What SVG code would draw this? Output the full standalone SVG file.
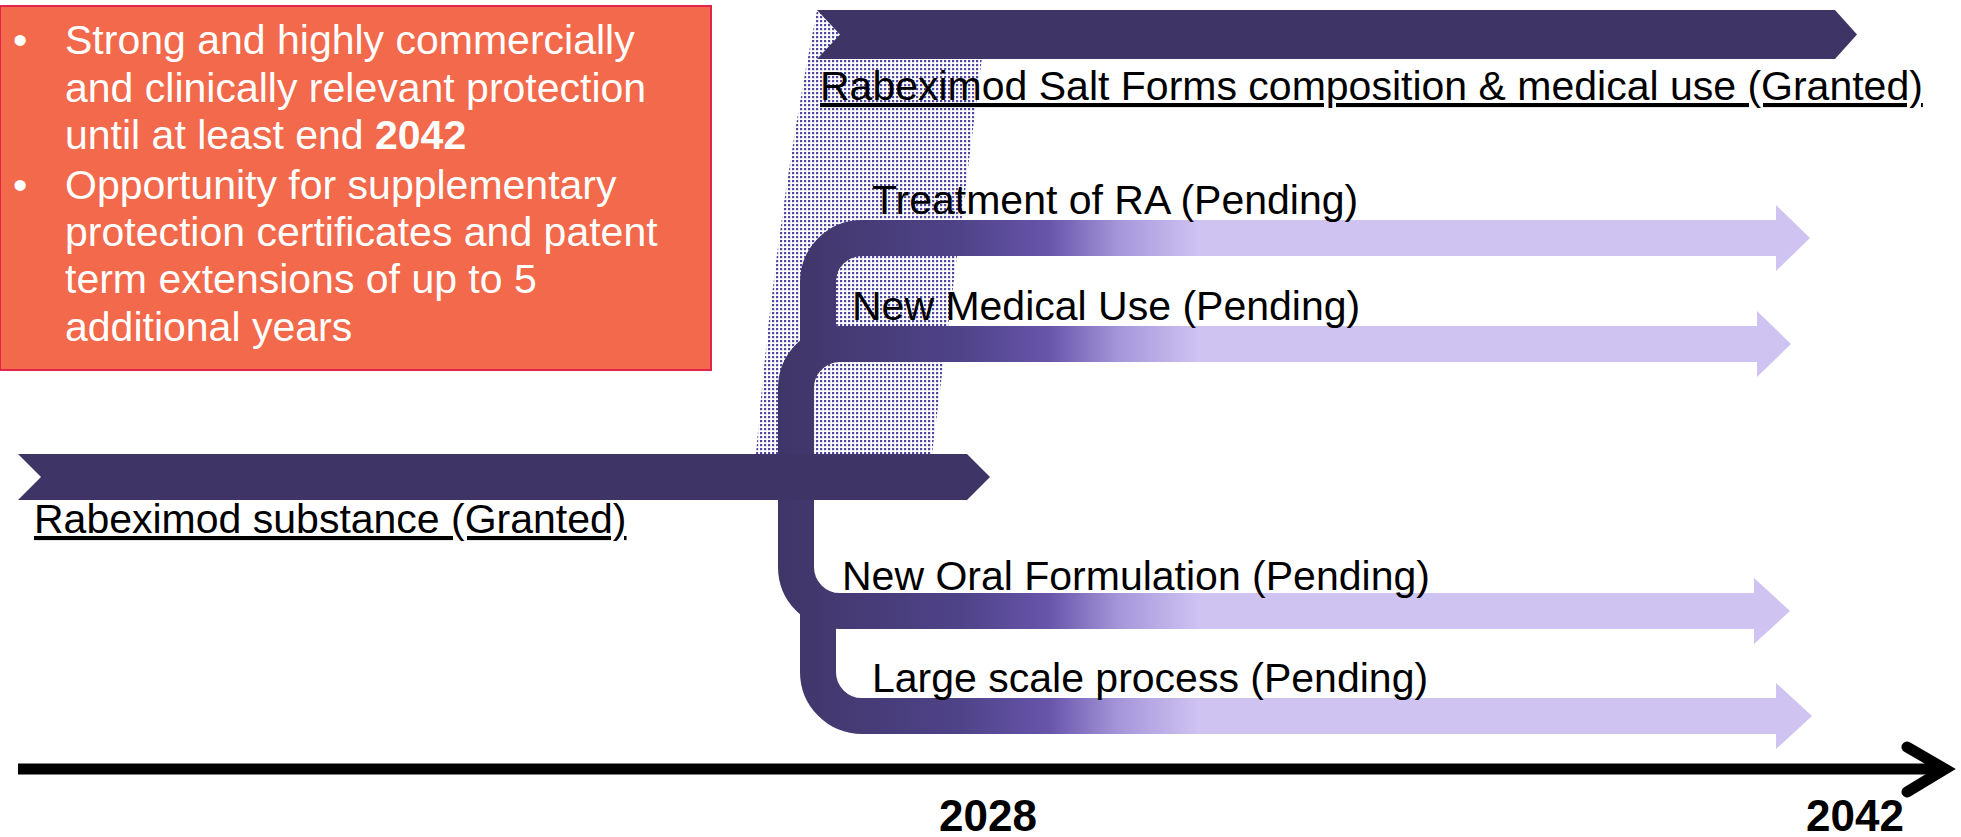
<svg xmlns="http://www.w3.org/2000/svg" width="1961" height="837" viewBox="0 0 1961 837">
<style>
.box{font-family:"Liberation Sans",Arial,sans-serif;font-size:41px;fill:#ffffff}
.lbl{font-family:"Liberation Sans",Arial,sans-serif;font-size:41px;fill:#000000}
.und{text-decoration:underline}
.yr{font-family:"Liberation Sans",Arial,sans-serif;font-size:44px;font-weight:bold;fill:#000000}
.dark{fill:#3E3566}
.band{fill:none;stroke:url(#grad);stroke-width:36}
.head{fill:#CFC3F2}
</style>
<defs>
<pattern id="dots" width="4" height="4" patternUnits="userSpaceOnUse">
<rect x="0" y="0" width="2.2" height="2.2" fill="#5047A0"/>
</pattern>
<linearGradient id="grad" gradientUnits="userSpaceOnUse" x1="780" y1="0" x2="1200" y2="0">
<stop offset="0" stop-color="#3F3567"/>
<stop offset="0.43" stop-color="#4F4388"/>
<stop offset="0.64" stop-color="#6755AA"/>
<stop offset="0.81" stop-color="#A697DA"/>
<stop offset="1" stop-color="#CFC3F2"/>
</linearGradient>
</defs>

<g id="dotted-band">
<path d="M817 10 L988 10 L932 454 L756 454 Q775 220 817 10 Z" fill="url(#dots)"/>
</g>

<g id="info-box">
<rect x="0" y="6" width="711" height="364" fill="#F3694B" stroke="#E5244D" stroke-width="2"/>
<text class="box" x="13" y="54">•</text>
<text class="box" x="65" y="54">Strong and highly commercially</text>
<text class="box" x="65" y="102">and clinically relevant protection</text>
<text class="box" x="65" y="149">until at least end <tspan font-weight="bold">2042</tspan></text>
<text class="box" x="13" y="199">•</text>
<text class="box" x="65" y="199">Opportunity for supplementary</text>
<text class="box" x="65" y="246">protection certificates and patent</text>
<text class="box" x="65" y="293">term extensions of up to 5</text>
<text class="box" x="65" y="341">additional years</text>
</g>

<g id="connectors">
<path class="band" d="M1776 238 H862 A44 44 0 0 0 818 282 V345"/>
<path class="band" d="M1776 716 H862 A44 44 0 0 1 818 672 V600"/>
<path class="band" d="M1757 344 H840 A44 44 0 0 0 796 388 V480"/>
<path class="band" d="M1754 611 H840 A44 44 0 0 1 796 567 V470"/>
<polygon class="head" points="1776,205 1810,238 1776,271"/>
<polygon class="head" points="1757,311 1791,344 1757,377"/>
<polygon class="head" points="1754,578 1790,611 1754,644"/>
<polygon class="head" points="1776,683 1812,716 1776,749"/>
</g>

<g id="salt-forms">
<polygon class="dark" points="817,10 1835,10 1857,34.5 1835,59 817,59 840,34.5"/>
<text class="lbl und" x="820" y="100">Rabeximod Salt Forms composition &amp; medical use (Granted)</text>
</g>

<g id="substance">
<polygon class="dark" points="18,454 967,454 990,477 967,500 18,500 41,477"/>
<text class="lbl und" x="34" y="533">Rabeximod substance (Granted)</text>
</g>

<g id="treatment-ra">
<text class="lbl" x="872" y="214">Treatment of RA (Pending)</text>
</g>
<g id="new-medical-use">
<text class="lbl" x="852" y="320">New Medical Use (Pending)</text>
</g>
<g id="new-oral">
<text class="lbl" x="842" y="590">New Oral Formulation (Pending)</text>
</g>
<g id="large-scale">
<text class="lbl" x="872" y="692">Large scale process (Pending)</text>
</g>

<g id="axis">
<line x1="18" y1="769" x2="1938" y2="769" stroke="#000" stroke-width="11"/>
<polyline points="1907,747 1945,769 1907,792" fill="none" stroke="#000" stroke-width="11" stroke-linecap="round" stroke-linejoin="miter"/>
<text class="yr" x="988" y="831" text-anchor="middle">2028</text>
<text class="yr" x="1855" y="831" text-anchor="middle">2042</text>
</g>
</svg>
